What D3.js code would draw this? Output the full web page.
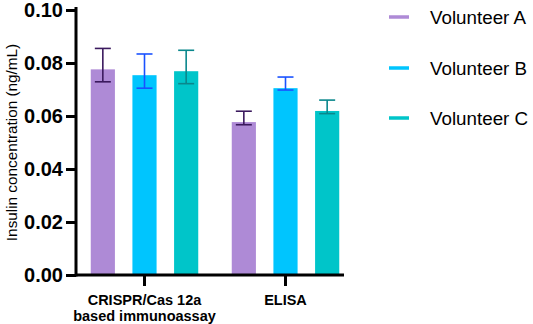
<!DOCTYPE html>
<html><head><meta charset="utf-8">
<script src="https://cdn.jsdelivr.net/npm/d3@7"></script>
<style>body{margin:0;background:#fff;}svg{display:block;}</style>
</head><body>
<script>
const categories = ["CRISPR/Cas 12a\nbased immunoassay", "ELISA"];
const series = ["Volunteer A", "Volunteer B", "Volunteer C"];
const means = [[0.0776, 0.0754, 0.0769], [0.0577, 0.0705, 0.0619]];
const errUpper = [[0.0855, 0.0834, 0.0848], [0.0618, 0.0747, 0.0660]];
const errLower = [[0.0729, 0.0705, 0.0722], [0.0567, 0.0698, 0.0609]];
const yTicks = [0, 0.02, 0.04, 0.06, 0.08, 0.10];
const barColors = ["#ae8ad6", "#00c5fe", "#00c5c9"];
const errColors = ["#3b1a5e", "#1a52ff", "#0a878c"];

const W = 533, H = 324;
const svg = d3.select("body").append("svg").attr("width", W).attr("height", H);

const y = d3.scaleLinear().domain([0, 0.1]).range([275, 10]);
const x0 = d3.scaleBand().domain(categories).range([74, 356]).padding(0);
const x1 = d3.scaleBand().domain(series).range([-62.5, 62.5]).paddingInner(0.42).paddingOuter(0.21);

// bars
const groups = svg.selectAll("g.grp").data(categories).join("g")
  .attr("transform", d => `translate(${x0(d) + x0.bandwidth()/2},0)`);
categories.forEach((c, ci) => {
  const g = groups.filter(d => d === c);
  series.forEach((s, si) => {
    const cx = x1(s) + x1.bandwidth()/2;
    g.append("rect").attr("x", x1(s)).attr("width", x1.bandwidth())
      .attr("y", y(means[ci][si])).attr("height", y(0) - y(means[ci][si]))
      .attr("fill", barColors[si]);
    const col = errColors[si];
    g.append("line").attr("x1", cx).attr("x2", cx)
      .attr("y1", y(errUpper[ci][si])).attr("y2", y(errLower[ci][si]))
      .attr("stroke", col).attr("stroke-width", 1.6);
    [errUpper[ci][si], errLower[ci][si]].forEach(v => {
      g.append("line").attr("x1", cx - 8).attr("x2", cx + 8)
        .attr("y1", y(v)).attr("y2", y(v))
        .attr("stroke", col).attr("stroke-width", 1.6);
    });
  });
});

// y axis
const yAxis = svg.append("g").attr("transform", "translate(76,0)")
  .call(d3.axisLeft(y).tickValues(yTicks).tickFormat(d3.format(".2f")).tickSize(10).tickSizeOuter(0).tickPadding(3));
yAxis.select(".domain").remove();
yAxis.selectAll(".tick line").attr("stroke", "#000").attr("stroke-width", 3);
yAxis.selectAll(".tick text").attr("font-family", "Liberation Sans, Arial, sans-serif")
  .attr("font-weight", "bold").attr("font-size", 20).attr("fill", "#000");
svg.append("line").attr("x1", 76).attr("x2", 76).attr("y1", y(0.1) - 1.5).attr("y2", y(0))
  .attr("stroke", "#000").attr("stroke-width", 3).attr("stroke-linecap", "square");

// x axis
const xAxis = svg.append("g").attr("transform", `translate(0,${y(0)})`)
  .call(d3.axisBottom(x0).tickSize(11).tickSizeOuter(0).tickFormat(""));
xAxis.select(".domain").remove();
xAxis.selectAll(".tick line").attr("stroke", "#000").attr("stroke-width", 3);
svg.append("line").attr("x1", 76).attr("x2", 344).attr("y1", y(0)).attr("y2", y(0))
  .attr("stroke", "#000").attr("stroke-width", 3);

categories.forEach(c => {
  const lines = c.split("\n");
  const t = svg.append("text").attr("text-anchor", "middle")
    .attr("font-family", "Liberation Sans, Arial, sans-serif").attr("font-weight", "bold")
    .attr("font-size", 14.5).attr("fill", "#000");
  lines.forEach((l, i) => {
    t.append("tspan").attr("x", x0(c) + x0.bandwidth()/2).attr("y", 305 + i * 16).text(l);
  });
});

// y title
svg.append("text").attr("transform", `translate(17,${(y(0)+y(0.1))/2}) rotate(-90)`)
  .attr("text-anchor", "middle").attr("font-family", "Liberation Sans, Arial, sans-serif")
  .attr("font-size", 15.3).attr("fill", "#000").text("Insulin concentration (ng/mL)");

// legend
const legY = [17, 68, 118];
series.forEach((s, i) => {
  svg.append("line").attr("x1", 389).attr("x2", 409).attr("y1", legY[i]).attr("y2", legY[i])
    .attr("stroke", barColors[i]).attr("stroke-width", 3.5);
  svg.append("text").attr("x", 430).attr("y", legY[i]).attr("dy", "0.36em")
    .attr("font-family", "Liberation Sans, Arial, sans-serif").attr("font-size", 18.8)
    .attr("fill", "#000").text(s);
});
</script>
</body></html>
